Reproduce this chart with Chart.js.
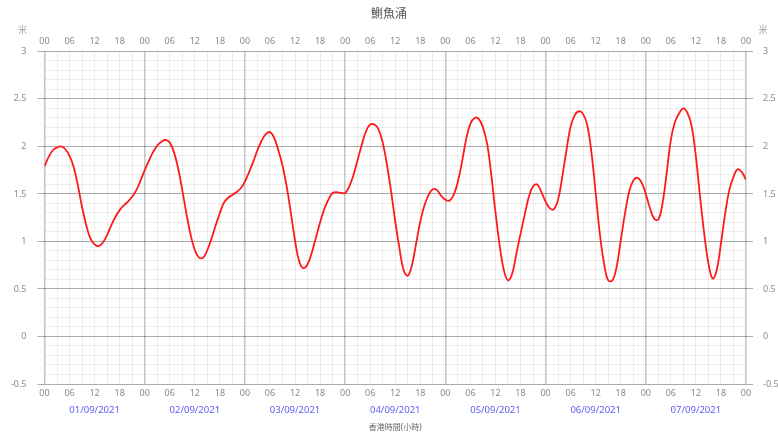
<!DOCTYPE html>
<html>
<head>
<meta charset="utf-8">
<script src="https://cdn.jsdelivr.net/npm/chart.js@4"></script>
<style>
  html, body { margin: 0; padding: 0; background: #fff; }
  #wrap { width: 778px; height: 436px; }
</style>
</head>
<body>
<div id="wrap"><canvas id="tideChart"></canvas></div>
<script>
// hourly tide heights (m), hours 00..23 of each day
const day1 = [1.79, 1.89, 1.96, 1.99, 2.00, 1.97, 1.90, 1.78, 1.59, 1.36, 1.17, 1.03, 0.97, 0.95, 0.99, 1.07, 1.17, 1.26, 1.33, 1.38, 1.42, 1.47, 1.54, 1.64];
const day2 = [1.75, 1.85, 1.94, 2.01, 2.05, 2.07, 2.04, 1.94, 1.77, 1.54, 1.29, 1.07, 0.91, 0.83, 0.83, 0.91, 1.03, 1.17, 1.30, 1.41, 1.46, 1.49, 1.52, 1.56];
const day3 = [1.63, 1.73, 1.84, 1.96, 2.06, 2.13, 2.15, 2.09, 1.96, 1.80, 1.58, 1.30, 1.01, 0.79, 0.72, 0.76, 0.88, 1.04, 1.20, 1.34, 1.44, 1.51, 1.52, 1.51];
const day4 = [1.51, 1.58, 1.70, 1.86, 2.02, 2.16, 2.23, 2.23, 2.18, 2.04, 1.81, 1.53, 1.21, 0.93, 0.70, 0.64, 0.75, 0.98, 1.21, 1.38, 1.49, 1.55, 1.54, 1.48];
const day5 = [1.44, 1.43, 1.49, 1.63, 1.84, 2.08, 2.24, 2.30, 2.29, 2.20, 2.03, 1.70, 1.31, 0.96, 0.70, 0.59, 0.66, 0.87, 1.08, 1.28, 1.47, 1.58, 1.60, 1.52];
const day6 = [1.42, 1.35, 1.34, 1.44, 1.68, 1.96, 2.21, 2.33, 2.37, 2.34, 2.22, 1.93, 1.51, 1.08, 0.77, 0.59, 0.59, 0.73, 1.01, 1.29, 1.52, 1.64, 1.67, 1.62];
const day7 = [1.50, 1.35, 1.24, 1.23, 1.40, 1.72, 2.07, 2.26, 2.35, 2.40, 2.35, 2.21, 1.89, 1.47, 1.08, 0.77, 0.61, 0.70, 0.98, 1.29, 1.54, 1.68, 1.76, 1.73];
const lastHour = [1.65];

const dateLabels = ["01/09/2021", "02/09/2021", "03/09/2021", "04/09/2021", "05/09/2021", "06/09/2021", "07/09/2021"];
const hourLabels = ["00", "06", "12", "18"];

const heights = [...day1, ...day2, ...day3, ...day4, ...day5, ...day6, ...day7, ...lastHour];
const points = heights.map((v, h) => ({ x: h, y: v }));

const FONT = "'Noto Sans', 'Noto Sans CJK TC', sans-serif";
const tickGrey = "#8a8a8a";
const majorLine = "rgba(0,0,0,0.33)";
const dayLine = "rgba(0,0,0,0.22)";
const minorLine = "rgba(0,0,0,0.065)";

const hourTick = v => (v % 6 === 0 ? hourLabels[(v % 24) / 6] : "");
const isMajorY = v => Math.abs(Math.round(v * 10)) % 5 === 0;
const yTick = v => (isMajorY(v) ? String(Math.round(v * 10) / 10) : "");

const unitLabels = {
  id: "unitLabels",
  afterDraw(chart) {
    const { ctx, chartArea } = chart;
    ctx.save();
    ctx.font = "9px " + FONT;
    ctx.fillStyle = "#999";
    ctx.textBaseline = "middle";
    ctx.textAlign = "center";
    ctx.fillText("米", chartArea.left - 22, chartArea.top - 21);
    ctx.fillText("米", chartArea.right + 17, chartArea.top - 21);
    ctx.restore();
  },
};

const hourAxis = (position) => ({
  type: "linear",
  position,
  min: 0,
  max: 168,
  grid: {
    display: position === "bottom",
    drawTicks: false,
    color: c => (c.tick.value % 24 === 0 ? dayLine : minorLine),
    lineWidth: c => (c.tick.value % 24 === 0 ? 1.6 : 1),
  },
  border: { display: false },
  ticks: {
    stepSize: 3,
    autoSkip: false,
    maxRotation: 0,
    padding: position === "bottom" ? 4 : 5,
    color: tickGrey,
    font: { family: FONT, size: 9 },
    callback: hourTick,
  },
});

new Chart("tideChart", {
  type: "line",
  data: {
    datasets: [
      {
        data: points,
        borderColor: "#ff1a1a",
        borderWidth: 1.8,
        pointRadius: 0,
        tension: 0.4,
        fill: false,
      },
    ],
  },
  options: {
    responsive: true,
    maintainAspectRatio: false,
    animation: false,
    layout: { padding: 0 },
    plugins: {
      legend: { display: false },
      tooltip: { enabled: false },
      title: {
        display: true,
        text: "鰂魚涌",
        color: "#555",
        font: { family: FONT, size: 12, weight: "normal" },
        padding: { top: 7, bottom: 0 },
      },
    },
    scales: {
      x: { ...hourAxis("bottom"), weight: 0, afterFit: s => { s.height = 14; } },
      xTop: { ...hourAxis("top"), afterFit: s => { s.height = 30; } },
      xDate: {
        type: "linear",
        position: "bottom",
        weight: 1,
        min: 0,
        max: 168,
        grid: { display: false, drawTicks: false },
        border: { display: false },
        afterBuildTicks: axis => {
          axis.ticks = dateLabels.map((d, i) => ({ value: i * 24 + 12 }));
        },
        afterFit: s => { s.height = 38; },
        ticks: {
          autoSkip: false,
          maxRotation: 0,
          padding: 7,
          color: "#5c5cf6",
          font: { family: FONT, size: 9.5 },
          callback: (v, i) => dateLabels[i],
        },
        title: {
          display: true,
          text: "香港時間(小時)",
          color: "#666",
          font: { family: FONT, size: 8 },
          padding: { top: 0, bottom: 3 },
        },
      },
      y: {
        position: "left",
        min: -0.5,
        max: 3,
        grid: {
          drawTicks: true,
          tickLength: 7,
          color: c => (isMajorY(c.tick.value) ? majorLine : minorLine),
          tickColor: c => (isMajorY(c.tick.value) ? majorLine : "rgba(0,0,0,0)"),
        },
        border: { display: false },
        afterFit: s => { s.width = 44.5; },
        ticks: {
          stepSize: 0.1,
          autoSkip: false,
          padding: 11,
          color: tickGrey,
          font: { family: FONT, size: 9 },
          callback: yTick,
        },
      },
      yRight: {
        position: "right",
        min: -0.5,
        max: 3,
        grid: {
          drawOnChartArea: false,
          drawTicks: true,
          tickLength: 7,
          tickColor: c => (isMajorY(c.tick.value) ? majorLine : "rgba(0,0,0,0)"),
        },
        border: { display: false },
        afterFit: s => { s.width = 32; },
        ticks: {
          stepSize: 0.1,
          autoSkip: false,
          padding: 10,
          color: tickGrey,
          font: { family: FONT, size: 9 },
          callback: yTick,
        },
      },
    },
  },
  plugins: [unitLabels],
});
</script>
</body>
</html>
